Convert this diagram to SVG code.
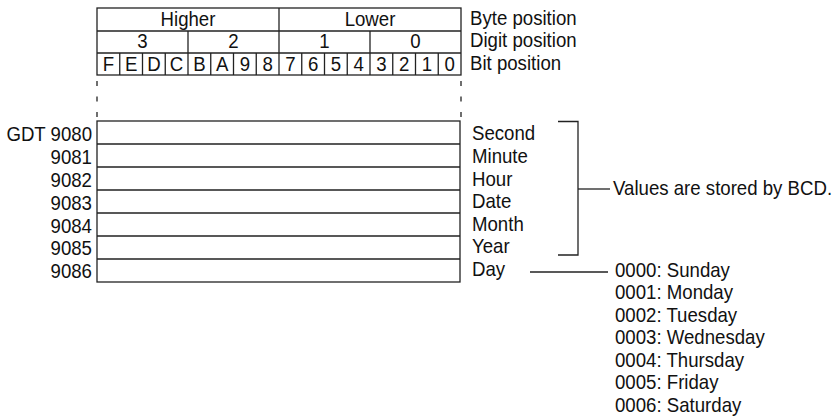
<svg xmlns="http://www.w3.org/2000/svg" width="836" height="419" viewBox="0 0 836 419">
<style>
text{font-family:"Liberation Sans",Arial,sans-serif;font-size:20.7px;fill:#111}
.c{text-anchor:middle}
.r{text-anchor:end}
.ln{stroke:#222;stroke-width:1.3;fill:none}
.bx{stroke:#222;stroke-width:1.3;fill:#fff}
.dash{stroke:#222;stroke-width:1.3;stroke-dasharray:5 10.5;fill:none}
</style>
<rect width="836" height="419" fill="#fff"/>
<g id="header">
<rect class="bx" x="97" y="8" width="364" height="67"/>
<line class="ln" x1="97" y1="31" x2="461" y2="31"/>
<line class="ln" x1="97" y1="53" x2="461" y2="53"/>
<line class="ln" x1="279" y1="8" x2="279" y2="75"/>
<line class="ln" x1="188" y1="31" x2="188" y2="75"/>
<line class="ln" x1="370" y1="31" x2="370" y2="75"/>
<path class="ln" d="M119.75 53V75M142.5 53V75M165.25 53V75M210.75 53V75M233.5 53V75M256.25 53V75M301.75 53V75M324.5 53V75M347.25 53V75M392.75 53V75M415.5 53V75M438.25 53V75"/>
<g transform="scale(0.9,1)">
<text class="c" x="208.89" y="26">Higher</text>
<text class="c" x="411.11" y="26">Lower</text>
<text class="c" x="158.33" y="48">3</text>
<text class="c" x="259.44" y="48">2</text>
<text class="c" x="360.56" y="48">1</text>
<text class="c" x="461.67" y="48">0</text>
<text class="c" x="120.44" y="71">F</text>
<text class="c" x="145.67" y="71">E</text>
<text class="c" x="171" y="71">D</text>
<text class="c" x="196.22" y="71">C</text>
<text class="c" x="221.56" y="71">B</text>
<text class="c" x="246.78" y="71">A</text>
<text class="c" x="272.11" y="71">9</text>
<text class="c" x="297.33" y="71">8</text>
<text class="c" x="322.67" y="71">7</text>
<text class="c" x="347.89" y="71">6</text>
<text class="c" x="373.22" y="71">5</text>
<text class="c" x="398.44" y="71">4</text>
<text class="c" x="423.78" y="71">3</text>
<text class="c" x="449" y="71">2</text>
<text class="c" x="474.33" y="71">1</text>
<text class="c" x="499.56" y="71">0</text>
<text x="522.22" y="25">Byte position</text>
<text x="522.22" y="47">Digit position</text>
<text x="522.22" y="70">Bit position</text>
</g>
</g>
<g id="connectors">
<line class="dash" x1="97" y1="81" x2="97" y2="121"/>
<line class="dash" x1="461" y1="81" x2="461" y2="121"/>
<path class="ln" d="M558 121.5H578V255H558"/>
<line class="ln" x1="578" y1="189" x2="610" y2="189"/>
<line class="ln" x1="530" y1="272" x2="608" y2="272"/>
</g>
<g id="registers">
<rect class="bx" x="97" y="121" width="363" height="161"/>
<path class="ln" d="M97 144H460M97 167H460M97 190H460M97 213H460M97 236H460M97 259H460"/>
</g>
<g id="addresses" transform="scale(0.9,1)">
<text class="r" x="102.22" y="141">GDT 9080</text>
<text class="r" x="102.22" y="164">9081</text>
<text class="r" x="102.22" y="187">9082</text>
<text class="r" x="102.22" y="210">9083</text>
<text class="r" x="102.22" y="233">9084</text>
<text class="r" x="102.22" y="255.5">9085</text>
<text class="r" x="102.22" y="278">9086</text>
</g>
<g id="fields" transform="scale(0.9,1)">
<text x="524.44" y="140">Second</text>
<text x="524.44" y="163">Minute</text>
<text x="524.44" y="186">Hour</text>
<text x="524.44" y="208.5">Date</text>
<text x="524.44" y="231">Month</text>
<text x="524.44" y="253.5">Year</text>
<text x="524.44" y="276.5">Day</text>
</g>
<g id="bcd-note" transform="scale(0.9,1)">
<text x="681.11" y="195">Values are stored by BCD.</text>
</g>
<g id="day-values" transform="scale(0.9,1)">
<text x="683.33" y="277">0000: Sunday</text>
<text x="683.33" y="299.5">0001: Monday</text>
<text x="683.33" y="322">0002: Tuesday</text>
<text x="683.33" y="344.5">0003: Wednesday</text>
<text x="683.33" y="367">0004: Thursday</text>
<text x="683.33" y="389.5">0005: Friday</text>
<text x="683.33" y="412">0006: Saturday</text>
</g>
</svg>
